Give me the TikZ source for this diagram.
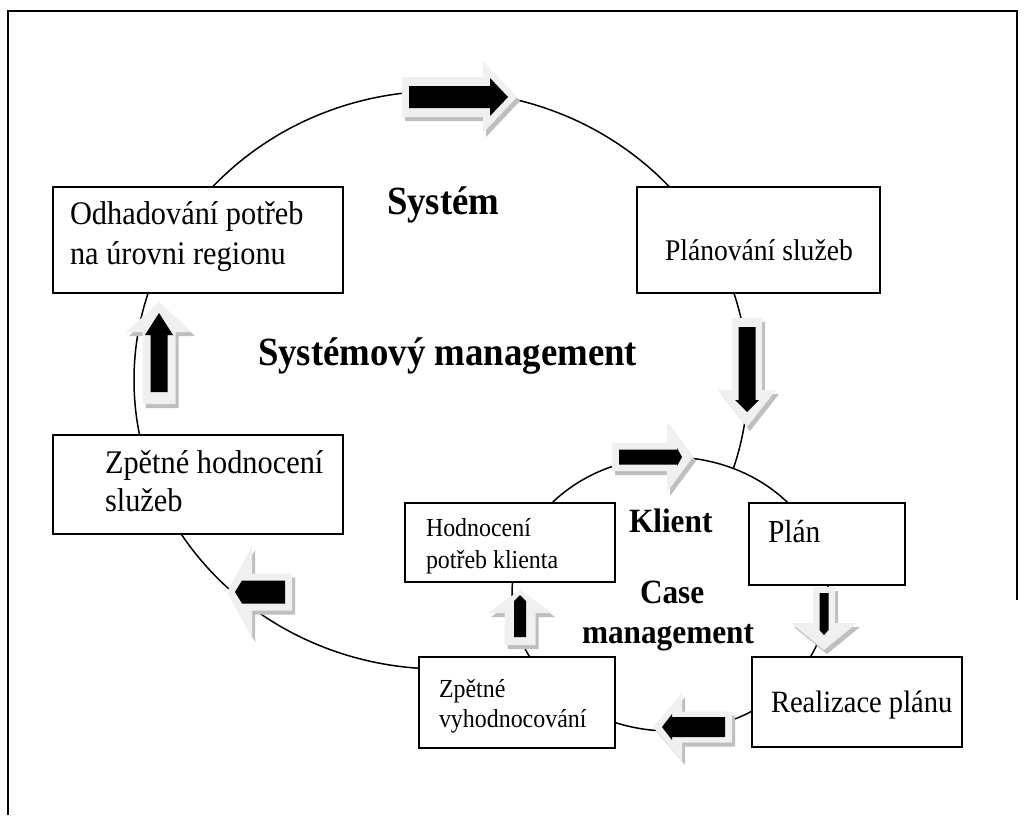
\documentclass[tikz,border=0pt]{standalone}
\usepackage{fontspec}
\setmainfont{Liberation Serif}[FakeStretch=0.92]

% block arrow along the local x axis: tail x, tip x, shaft half width, head half width, head length
\newcommand{\arrowpath}[5]{(#1,-#3) -- ({#2-#5},-#3) -- ({#2-#5},-#4) -- (#2,0) -- ({#2-#5},#4) -- ({#2-#5},#3) -- (#1,#3) -- cycle}

% shaded block arrow: centre, angle, outer arrow, black core arrow
\newcommand{\blockarrow}[4]{%
  \begin{scope}[shift={(3,4)}]\begin{scope}[shift={#1},rotate=#2]
    \fill[arrowshade] \arrowpath#3;
  \end{scope}\end{scope}
  \begin{scope}[shift={#1},rotate=#2]
    \fill[arrowlight] \arrowpath#3;
    \fill[arrowcore] \arrowpath#4;
  \end{scope}}

\begin{document}
\begin{tikzpicture}[x=1pt,y=-1pt,
  box/.style={draw=black, line width=1.6pt, fill=white, inner sep=0pt, outer sep=0pt, anchor=north west},
  lbl/.style={anchor=base west, inner sep=0pt, outer sep=0pt},
  ring/.style={draw=black, line width=1.5pt},
  arrowlight/.style={fill=black!6},
  arrowshade/.style={fill=black!25},
  arrowcore/.style={fill=black},
  txtA/.style={font=\fontsize{33}{38}\selectfont},
  txtB/.style={font=\fontsize{26}{30}\selectfont},
  headA/.style={font=\fontsize{40}{46}\selectfont\bfseries},
  headB/.style={font=\fontsize{34}{40}\selectfont\bfseries}]

\useasboundingbox (0,0) rectangle (1035,815);

% frame
\draw[line width=2pt] (8,815) -- (8,11) -- (1017,11) -- (1017,600);

% the two cycles; the inner one covers the outer
\draw[ring] (441,380) ellipse [x radius=307, y radius=289];
\draw[ring, fill=white] (670,594) ellipse [x radius=158, y radius=137];

% boxes
\node[box, minimum width=290, minimum height=106] (odhad) at (53,187) {};
\node[box, minimum width=243, minimum height=106] (planovani) at (637,187) {};
\node[box, minimum width=290, minimum height=99] (zpethod) at (53,435) {};
\node[box, minimum width=210, minimum height=79] (hodnoc) at (405,503) {};
\node[box, minimum width=156, minimum height=82] (plan) at (749,503) {};
\node[box, minimum width=196, minimum height=91] (zpetvyh) at (419,657) {};
\node[box, minimum width=210, minimum height=90] (realiz) at (752,657) {};

% arrows on the outer cycle
\blockarrow{(459.5,97)}{0}{{-57.5}{57.5}{20}{36}{34}}{{-50.5}{48.5}{11}{19}{18}}
\blockarrow{(747,372.5)}{-90}{{-54.5}{54.5}{15}{29}{37}}{{-45.5}{39.5}{8.5}{12}{12}}
\blockarrow{(159,353)}{90}{{-51}{51}{16.5}{33}{30}}{{-39}{40}{8.5}{14}{22}}
\blockarrow{(259.5,592)}{180}{{-32.5}{32.5}{18.5}{46}{25}}{{-25.5}{24.5}{11.5}{11.5}{7}}

% arrows on the inner cycle
\blockarrow{(652.5,457)}{0}{{-40.5}{40.5}{14}{35}{26}}{{-33.5}{29.5}{7.5}{9}{5}}
\blockarrow{(824,618.5)}{-90}{{-31.5}{31.5}{11}{33}{27}}{{-25.5}{16.5}{4.5}{4.5}{5}}
\blockarrow{(692.5,727)}{180}{{-39.5}{39.5}{15.5}{34}{29}}{{-32.5}{30.5}{10}{13}{10}}
\blockarrow{(520,617.5)}{90}{{-27.5}{27.5}{15.5}{32}{23}}{{-19.5}{22.5}{6}{6}{6}}

% box texts
\node[lbl, txtA] (odhad1) at (70,224) {Odhadování potřeb};
\node[lbl, txtA] (odhad2) at (70,264) {na úrovni regionu};
\node[lbl, font=\fontsize{30}{35}\selectfont] (planovani1) at (665,260) {Plánování služeb};
\node[lbl, txtA] (zpethod1) at (105,473) {Zpětné hodnocení};
\node[lbl, txtA] (zpethod2) at (105,511) {služeb};
\node[lbl, txtB] (hodnoc1) at (426,536) {Hodnocení};
\node[lbl, txtB] (hodnoc2) at (426,568) {potřeb klienta};
\node[lbl, font=\fontsize{32}{37}\selectfont] (plan1) at (768,542) {Plán};
\node[lbl, font=\fontsize{31}{36}\selectfont] (realiz1) at (771,712) {Realizace plánu};
\node[lbl, txtB] (zpetvyh1) at (439,697) {Zpětné};
\node[lbl, txtB] (zpetvyh2) at (439,727) {vyhodnocování};

% headings
\node[lbl, headA] (system) at (387,214) {Systém};
\node[lbl, headA] (sysman) at (258,365) {Systémový management};
\node[lbl, headB] (klient) at (629,532) {Klient};
\node[lbl, headB] (case) at (640,603) {Case};
\node[lbl, headB] (caseman) at (582,643) {management};

\end{tikzpicture}
\end{document}
